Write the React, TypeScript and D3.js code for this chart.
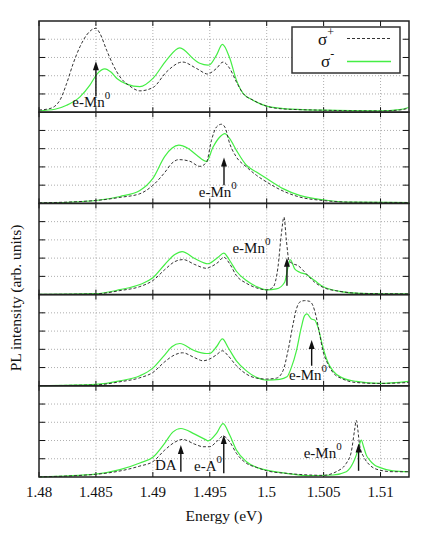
import React from "react";
import * as d3 from "d3";

// energy ticks (eV)
const E_TICKS = [1.48, 1.485, 1.49, 1.495, 1.5, 1.505, 1.51];
const E_LABELS = ["1.48", "1.485", "1.49", "1.495", "1.5", "1.505", "1.51"];
const Y_GRID = [1, 2, 3, 4];

// [energy, intensity] per panel, sigma+ (dashed) and sigma- (green)
const sp1 = [[1.48,0.12],[1.48096,0.2],[1.48184,0.66],[1.48243,1.58],[1.48301,2.68],[1.4836,3.59],[1.48418,4.23],[1.485,4.6],[1.48535,4.32],[1.48594,3.4],[1.48652,2.58],[1.48711,1.94],[1.48798,1.43],[1.48886,1.17],[1.49003,1.36],[1.4912,2.21],[1.49261,2.75],[1.49383,2.4],[1.49485,2.09],[1.495,2.13],[1.49559,2.4],[1.49617,2.75],[1.49675,2.4],[1.49734,1.66],[1.49792,1.03],[1.4988,0.66],[1.5,0.33],[1.50143,0.18],[1.50494,0.11],[1.50991,0.07],[1.51167,0.12],[1.51246,0.22]];
const sm1 = [[1.48,0.08],[1.4814,0.16],[1.48243,0.38],[1.4836,0.84],[1.48447,1.48],[1.48509,2.09],[1.48579,2.38],[1.48632,2.2],[1.48684,1.85],[1.48772,1.54],[1.48886,1.4],[1.49003,1.87],[1.4912,2.86],[1.49237,3.53],[1.49368,2.86],[1.49412,2.68],[1.49485,2.58],[1.495,2.6],[1.49559,3.13],[1.49611,3.72],[1.49675,2.97],[1.49734,1.76],[1.49792,1.04],[1.4988,0.66],[1.5,0.33],[1.50143,0.2],[1.50494,0.11],[1.50991,0.07],[1.51167,0.14],[1.51246,0.26]];

const sp2 = [[1.48,0.03],[1.485,0.16],[1.48711,0.33],[1.48886,0.53],[1.49,0.99],[1.49105,1.7],[1.49167,2.2],[1.49228,2.4],[1.49325,2.31],[1.49412,2.03],[1.49471,2.25],[1.49515,3.46],[1.49559,4.19],[1.49603,4.34],[1.49632,4.19],[1.49675,3.28],[1.49734,2.54],[1.49822,2.0],[1.4991,1.54],[1.5,1.17],[1.50143,0.68],[1.50289,0.35],[1.50494,0.16],[1.50728,0.07],[1.51246,0.05]];
const sm2 = [[1.48,0.01],[1.485,0.16],[1.48711,0.38],[1.48886,0.71],[1.49,1.37],[1.49105,2.58],[1.49167,3.02],[1.49228,3.19],[1.49307,3.02],[1.49386,2.64],[1.49471,2.3],[1.49529,3.09],[1.49588,3.64],[1.49632,3.83],[1.49675,3.55],[1.49734,2.91],[1.49822,2.09],[1.4991,1.72],[1.5,1.36],[1.50143,0.81],[1.50289,0.44],[1.50494,0.2],[1.50728,0.07],[1.51246,0.05]];

const sp3 = [[1.48,0.01],[1.485,0.04],[1.48711,0.22],[1.48886,0.44],[1.49,0.77],[1.49105,1.37],[1.49193,1.81],[1.49266,1.92],[1.49368,1.65],[1.49471,1.44],[1.495,1.5],[1.49573,1.77],[1.49623,2.05],[1.49675,1.69],[1.49734,1.04],[1.49822,0.62],[1.4991,0.37],[1.5,0.26],[1.50055,0.4],[1.50099,1.5],[1.50129,3.34],[1.50152,4.25],[1.50173,2.97],[1.50196,1.87],[1.50232,1.69],[1.50275,1.59],[1.50348,1.14],[1.50421,0.68],[1.50494,0.4],[1.5064,0.18],[1.50816,0.07],[1.51246,0.04]];
const sm3 = [[1.48,0.01],[1.485,0.05],[1.48711,0.27],[1.48886,0.55],[1.49,0.92],[1.49105,1.65],[1.49193,2.2],[1.49257,2.36],[1.49368,1.98],[1.49485,1.69],[1.495,1.72],[1.49573,2.05],[1.49623,2.27],[1.49675,1.87],[1.49734,1.28],[1.49822,0.77],[1.4991,0.44],[1.5,0.26],[1.50085,0.31],[1.50158,0.68],[1.50187,1.5],[1.50208,1.91],[1.50246,1.41],[1.50289,1.23],[1.50348,1.1],[1.50421,0.77],[1.50494,0.44],[1.5064,0.18],[1.50816,0.07],[1.51246,0.04]];

const sp4 = [[1.48,0.01],[1.485,0.05],[1.48711,0.22],[1.48886,0.44],[1.49,0.73],[1.49105,1.32],[1.49193,1.7],[1.49261,1.81],[1.49368,1.54],[1.49441,1.37],[1.495,1.47],[1.49559,1.7],[1.49611,1.92],[1.49661,1.65],[1.49734,1.1],[1.49822,0.64],[1.4991,0.42],[1.5,0.37],[1.50085,0.42],[1.50143,0.82],[1.50187,1.92],[1.50232,3.39],[1.50261,4.21],[1.50289,4.58],[1.50333,4.67],[1.50377,4.63],[1.50406,4.4],[1.50436,3.75],[1.50465,2.84],[1.50494,1.92],[1.50538,1.19],[1.50582,0.73],[1.50669,0.37],[1.50787,0.18],[1.50991,0.13],[1.51246,0.18]];
const sm4 = [[1.48,0.01],[1.485,0.08],[1.48711,0.27],[1.48886,0.55],[1.49,0.97],[1.49105,1.7],[1.49167,2.14],[1.49237,2.32],[1.49368,1.92],[1.49471,1.77],[1.495,1.78],[1.49559,2.14],[1.49611,2.57],[1.49661,2.1],[1.49734,1.37],[1.49822,0.82],[1.4991,0.46],[1.5,0.31],[1.50114,0.35],[1.50178,0.49],[1.50217,1.01],[1.50261,1.92],[1.50304,3.2],[1.50333,3.85],[1.50354,3.94],[1.50392,3.66],[1.50421,3.61],[1.50451,3.2],[1.50494,2.1],[1.50538,1.28],[1.50582,0.82],[1.50669,0.42],[1.50787,0.24],[1.50991,0.13],[1.51246,0.24]];

const sp5 = [[1.48,0.01],[1.485,0.15],[1.48711,0.33],[1.48886,0.6],[1.49,0.84],[1.49105,1.48],[1.49193,1.91],[1.49261,2.06],[1.49368,1.8],[1.49441,1.66],[1.495,1.66],[1.49559,1.93],[1.49617,2.24],[1.49675,1.93],[1.49734,1.3],[1.49822,0.75],[1.4991,0.53],[1.5,0.34],[1.50173,0.2],[1.50377,0.11],[1.50494,0.09],[1.50611,0.29],[1.50699,0.75],[1.50743,1.38],[1.50772,2.57],[1.50787,3.11],[1.50801,2.57],[1.50816,1.75],[1.5086,1.02],[1.50904,0.66],[1.50991,0.38],[1.51108,0.29],[1.51246,0.29]];
const sm5 = [[1.48,0.01],[1.485,0.16],[1.48711,0.4],[1.48886,0.77],[1.49,1.08],[1.49105,1.86],[1.49175,2.46],[1.49246,2.66],[1.49368,2.35],[1.49471,2.02],[1.49485,1.98],[1.49559,2.39],[1.49617,2.93],[1.49675,2.3],[1.49734,1.48],[1.49822,0.84],[1.4991,0.53],[1.5,0.38],[1.50173,0.2],[1.50377,0.07],[1.50582,0.11],[1.50699,0.29],[1.50757,0.75],[1.50787,1.2],[1.5081,1.66],[1.50831,2.02],[1.50851,1.66],[1.50875,1.2],[1.50904,0.93],[1.50947,0.66],[1.50991,0.53],[1.51108,0.34],[1.51246,0.29]];

const SIGMA_PLUS = [sp1, sp2, sp3, sp4, sp5];
const SIGMA_MINUS = [sm1, sm2, sm3, sm4, sm5];

// arrows + labels: arrow at energy x from value `from` to `to`, label starts at (tx, ty)
const ANNOTATIONS = [
  { panel: 0, label: "e-Mn", sup: "0", x: 1.485, from: 0.88, to: 2.8, tx: 1.48292, ty: 0.29 },
  { panel: 1, label: "e-Mn", sup: "0", x: 1.49625, from: 0.99, to: 2.51, tx: 1.49404, ty: 0.35 },
  { panel: 2, label: "e-Mn", sup: "0", x: 1.50178, from: 0.49, to: 2.02, tx: 1.49699, ty: 2.27 },
  { panel: 3, label: "e-Mn", sup: "0", x: 1.50395, from: 1.1, to: 2.51, tx: 1.50196, ty: 0.31 },
  { panel: 4, label: "DA", sup: "", x: 1.49246, from: 0.29, to: 1.75, tx: 1.49018, ty: 0.38 },
  { panel: 4, label: "e-A", sup: "0", x: 1.49623, from: 0.2, to: 2.3, tx: 1.49362, ty: 0.34 },
  { panel: 4, label: "e-Mn", sup: "0", x: 1.50807, from: 0.34, to: 1.84, tx: 1.50325, ty: 1.05 },
];

const W = 436;
const H = 546;
const left = 39;
const right = 409;
const top = 21;
const bottom = 477;
const nPanels = 5;
const panelH = (bottom - top) / nPanels;
const FONT = "Liberation Serif, Tinos, Times New Roman, DejaVu Serif, serif";
const GREEN = "#44ee44";
const DASH = "#333";
const txt = { fontFamily: FONT };

export default function App() {
  const x = d3.scaleLinear().domain([1.48, 1.5125]).range([left, right]);
  const yFor = (i: number) =>
    d3.scaleLinear().domain([0, 5]).range([top + (i + 1) * panelH, top + i * panelH]);

  const panels = d3.range(nPanels).map((i) => {
    const y = yFor(i);
    const line = d3
      .line<number[]>()
      .x((d) => x(d[0]))
      .y((d) => y(d[1]))
      .curve(d3.curveMonotoneX);
    const y0 = y(0);
    const y5 = y(5);
    return (
      <g key={i}>
        {/* grid */}
        {E_TICKS.slice(1).map((t) => (
          <line key={"gx" + t} x1={x(t)} x2={x(t)} y1={y5} y2={y0} stroke="#999" strokeWidth={0.8} strokeDasharray="1,2" />
        ))}
        {Y_GRID.map((v) => (
          <line key={"gy" + v} x1={left} x2={right} y1={y(v)} y2={y(v)} stroke="#999" strokeWidth={0.8} strokeDasharray="1,2" />
        ))}
        {/* ticks */}
        {E_TICKS.map((t) => (
          <g key={"tx" + t}>
            <line x1={x(t)} x2={x(t)} y1={y5} y2={y5 + 5} stroke="#111" strokeWidth={1} />
            <line x1={x(t)} x2={x(t)} y1={y0} y2={y0 - 5} stroke="#111" strokeWidth={1} />
          </g>
        ))}
        {Y_GRID.map((v) => (
          <g key={"ty" + v}>
            <line x1={left} x2={left + 6} y1={y(v)} y2={y(v)} stroke="#111" strokeWidth={1} />
            <line x1={right} x2={right - 6} y1={y(v)} y2={y(v)} stroke="#111" strokeWidth={1} />
          </g>
        ))}
        {/* curves */}
        <path d={line(SIGMA_MINUS[i] as number[][]) || ""} fill="none" stroke={GREEN} strokeWidth={1.2} />
        <path d={line(SIGMA_PLUS[i] as number[][]) || ""} fill="none" stroke={DASH} strokeWidth={1} strokeDasharray="3,2" />
        {/* panel frame */}
        <rect x={left} y={y5} width={right - left} height={y0 - y5} fill="none" stroke="#222" strokeWidth={1.5} />
      </g>
    );
  });

  const notes = ANNOTATIONS.map((a, k) => {
    const y = yFor(a.panel);
    const ax = x(a.x);
    const yTip = y(a.to);
    const headL = 9;
    const headW = 3;
    return (
      <g key={"a" + k}>
        <line x1={ax} x2={ax} y1={y(a.from)} y2={yTip + headL - 1} stroke="#111" strokeWidth={1.4} />
        <path d={`M${ax},${yTip} L${ax - headW},${yTip + headL} L${ax + headW},${yTip + headL} Z`} fill="#111" />
        <text x={x(a.tx)} y={y(a.ty)} style={txt} fontSize={15} fill="#111">
          {a.label}
          {a.sup && (
            <tspan dy={-8} fontSize={11}>
              {a.sup}
            </tspan>
          )}
        </text>
      </g>
    );
  });

  // legend box
  const lgX = 292;
  const lgY = 27;
  const lgW = 108;
  const lgH = 46;

  return (
    <svg width={W} height={H} style={{ position: "absolute", left: 0, top: 0, background: "#fff" }}>
      <rect width={W} height={H} fill="#fff" />
      {panels}
      {notes}
      <g>
        <rect x={lgX} y={lgY} width={lgW} height={lgH} fill="#fff" stroke="#333" strokeWidth={1.5} />
        <text x={lgX + 26} y={lgY + 18} style={txt} fontSize={17} fill="#111">
          σ<tspan dy={-9} fontSize={12}>+</tspan>
        </text>
        <line x1={lgX + 55} x2={lgX + 99} y1={lgY + 11.5} y2={lgY + 11.5} stroke={DASH} strokeWidth={1} strokeDasharray="3,2" />
        <text x={lgX + 29} y={lgY + 40} style={txt} fontSize={17} fill="#111">
          σ<tspan dy={-9} fontSize={12}>-</tspan>
        </text>
        <line x1={lgX + 55} x2={lgX + 99} y1={lgY + 34.5} y2={lgY + 34.5} stroke={GREEN} strokeWidth={1.5} />
      </g>
      {E_TICKS.map((t, i) => (
        <text key={"lbl" + t} x={x(t)} y={497} textAnchor="middle" style={txt} fontSize={15} fill="#111">
          {E_LABELS[i]}
        </text>
      ))}
      <text x={(left + right) / 2} y={521} textAnchor="middle" style={txt} fontSize={15.5} fill="#111">
        Energy (eV)
      </text>
      <text
        transform={`translate(21,${298}) rotate(-90)`}
        textAnchor="middle"
        style={txt}
        fontSize={15.5}
        fill="#111"
      >
        PL intensity (arb. units)
      </text>
    </svg>
  );
}
